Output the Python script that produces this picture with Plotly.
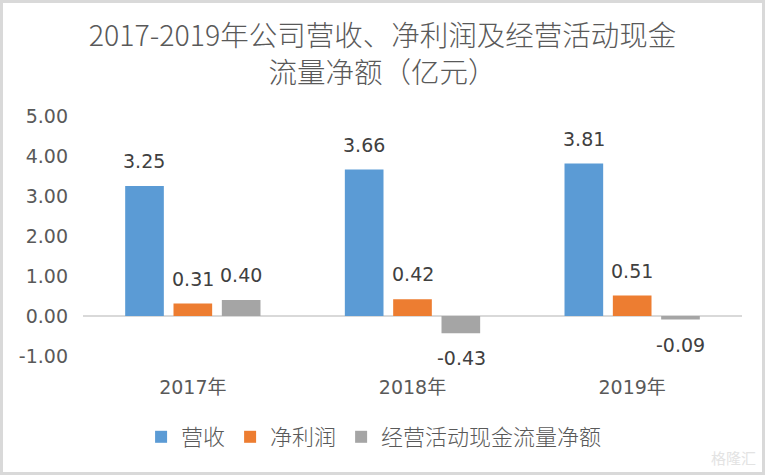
import plotly.graph_objects as go

categories = ["2017年", "2018年", "2019年"]
series_names = ["营收", "净利润", "经营活动现金流量净额"]
revenue = [3.25, 3.66, 3.81]
net_profit = [0.31, 0.42, 0.51]
op_cash_flow = [0.40, -0.43, -0.09]
tick_vals = [-1, 0, 1, 2, 3, 4, 5]
tick_text = ["-1.00", "0.00", "1.00", "2.00", "3.00", "4.00", "5.00"]

colors = ["#5B9BD5", "#ED7D31", "#A5A5A5"]
all_series = [revenue, net_profit, op_cash_flow]

W, H = 765, 475
ML, MR, MT, MB = 83, 23, 116, 119
pw = W - ML - MR
ph = H - MT - MB

num_font = "DejaVu Sans, Noto Sans CJK SC, sans-serif"
cjk_font = "Noto Sans CJK SC, sans-serif"

fig = go.Figure()
for name, vals, c in zip(series_names, all_series, colors):
    fig.add_trace(go.Bar(
        x=categories, y=vals, name=name, marker=dict(color=c, line=dict(width=0)),
    ))

# data labels
offsets = [-48.5, 0, 48.5]
annotations = []
for vals, dx in zip(all_series, offsets):
    for cat, v in zip(categories, vals):
        annotations.append(dict(
            x=cat, y=v, xref="x", yref="y", text=f"{v:.2f}", showarrow=False,
            xshift=dx, yshift=25 if v >= 0 else -25, yanchor="middle", xanchor="center",
            font=dict(family=num_font, size=19, color="#404040"),
        ))
# watermark
annotations.append(dict(
    x=(758 - ML) / pw, y=(H - 457 - MB) / ph, xref="paper", yref="paper",
    text="格隆汇", showarrow=False, xanchor="right", yanchor="middle",
    font=dict(family=cjk_font, size=15, color="#E3E3E3"),
))

fig.update_layout(
    width=W, height=H,
    margin=dict(l=ML, r=MR, t=MT, b=MB, autoexpand=False),
    paper_bgcolor="white", plot_bgcolor="white",
    barmode="group", bargap=0.34, bargroupgap=0.2,
    title=dict(
        text="2017-2019年公司营收、净利润及经营活动现金<br>流量净额（亿元）",
        x=0.5, xref="container", xanchor="center",
        y=1 - 46 / H, yref="container", yanchor="middle",
        font=dict(family=cjk_font, size=28.5, color="#595959", weight=300),
    ),
    xaxis=dict(
        showgrid=False, showline=False, zeroline=False, ticks="",
        tickfont=dict(family=num_font, size=19, color="#595959"),
        ticklabelstandoff=18,
    ),
    yaxis=dict(
        range=[-1, 5], tickvals=tick_vals, ticktext=tick_text,
        showgrid=False, showline=False, zeroline=True, zerolinecolor="#D9D9D9", zerolinewidth=1.5,
        ticks="", tickfont=dict(family=num_font, size=19, color="#595959"),
        ticklabelstandoff=14,
    ),
    legend=dict(
        orientation="h", xref="container", yref="container",
        x=0.489, xanchor="center", y=1 - 437 / H, yanchor="middle",
        font=dict(family=cjk_font, size=22, color="#595959", weight=300),
        itemwidth=30, tracegroupgap=0,
    ),
    annotations=annotations,
    shapes=[dict(
        type="rect", xref="paper", yref="paper",
        x0=(1.5 - ML) / pw, x1=(W - 1.5 - ML) / pw,
        y0=-(MB - 1.5) / ph, y1=1 + (MT - 1.5) / ph,
        line=dict(color="#D9D9D9", width=3), fillcolor="rgba(0,0,0,0)", layer="above",
    )],
    showlegend=True,
)
fig.write_html(
    "out.html",
    config={"displayModeBar": False},
    post_script="document.body.style.margin='0';document.body.style.overflow='hidden';",
)
